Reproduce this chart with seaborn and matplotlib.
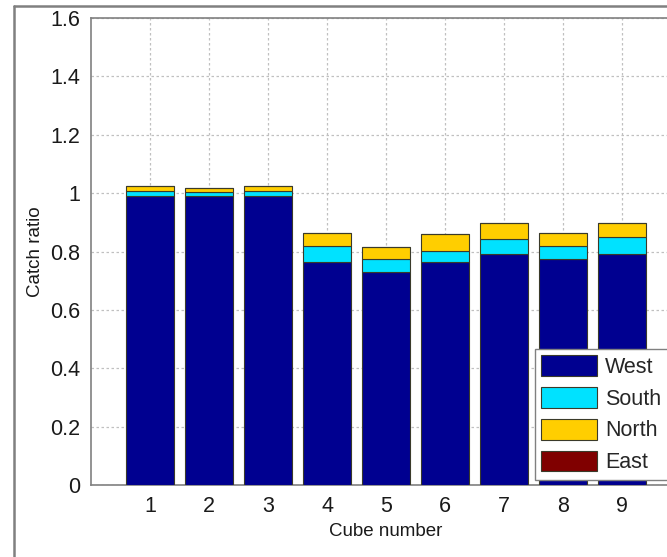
import matplotlib
matplotlib.use("Agg")
import matplotlib.pyplot as plt
import seaborn as sns
import pandas as pd
import numpy as np

cubes = [1, 2, 3, 4, 5, 6, 7, 8, 9]
west = [0.99, 0.99, 0.99, 0.763, 0.73, 0.764, 0.79, 0.775, 0.792]
south = [0.017, 0.013, 0.016, 0.055, 0.045, 0.038, 0.052, 0.043, 0.056]
north = [0.018, 0.015, 0.02, 0.044, 0.041, 0.059, 0.056, 0.044, 0.05]
east = [0, 0, 0, 0, 0, 0, 0, 0, 0]
series_names = ["West", "South", "North", "East"]
colors = ["#000090", "#00E2FF", "#FFCE00", "#800000"]

sns.set_style("white")
plt.rcParams["font.family"] = ["Liberation Sans", "DejaVu Sans"]

fig = plt.figure(figsize=(6.67, 5.57), dpi=100)
ax = fig.add_axes([91/667, 72/557, 590/667, 467/557])

vals = [west, south, north, east]
bottom = np.zeros(len(cubes))
for name, v, c in zip(series_names, vals, colors):
    df = pd.DataFrame({"cube": cubes, "val": v})
    sns.barplot(data=df, x="cube", y="val", native_scale=True, ax=ax,
                color=c, saturation=1, width=0.8, bottom=bottom,
                edgecolor="#3a3a2a", linewidth=0.8, label=name, zorder=3)
    bottom = bottom + np.array(v)

handles, labels = ax.get_legend_handles_labels()
if ax.get_legend() is not None:
    ax.get_legend().remove()

ax.set_xlim(0, 10)
ax.set_ylim(0, 1.6)
ax.set_xticks(cubes)
ax.set_xticklabels([str(c) for c in cubes])
ax.set_yticks(np.arange(0, 1.61, 0.2))
ax.set_yticklabels(["0", "0.2", "0.4", "0.6", "0.8", "1", "1.2", "1.4", "1.6"])
ax.tick_params(direction="in", length=4, labelsize=15.5, colors="#7f7f7f",
               labelcolor="#1a1a1a", pad=8)
ax.grid(True, linestyle=(0, (2, 2)), color="#c0c0c0", linewidth=0.9, zorder=0)
ax.set_axisbelow(True)
for s in ax.spines.values():
    s.set_color("#808080")
    s.set_linewidth(1.2)
ax.set_xlabel("Cube number", fontsize=13.5, color="#1a1a1a", labelpad=4)
ax.set_ylabel("Catch ratio", fontsize=13.5, color="#1a1a1a", labelpad=4)

leg = fig.legend(handles[:4], labels[:4], loc="upper left",
                 bbox_to_anchor=(535/667, 1 - 349/557), fontsize=15.5,
                 frameon=True, fancybox=False, edgecolor="#808080",
                 framealpha=1, facecolor="white",
                 handlelength=2.6, handleheight=1.1, labelspacing=0.42,
                 handletextpad=0.35, borderpad=0.3, borderaxespad=0)
leg.get_frame().set_linewidth(1.0)
leg.set_zorder(10)

fig.add_artist(plt.Line2D([14/667, 1], [1 - 6/557, 1 - 6/557],
                          transform=fig.transFigure, color="#808080", lw=1.8))
fig.add_artist(plt.Line2D([14/667, 14/667], [0, 1 - 6/557],
                          transform=fig.transFigure, color="#808080", lw=1.8))

fig.savefig("out.png", dpi=100)
